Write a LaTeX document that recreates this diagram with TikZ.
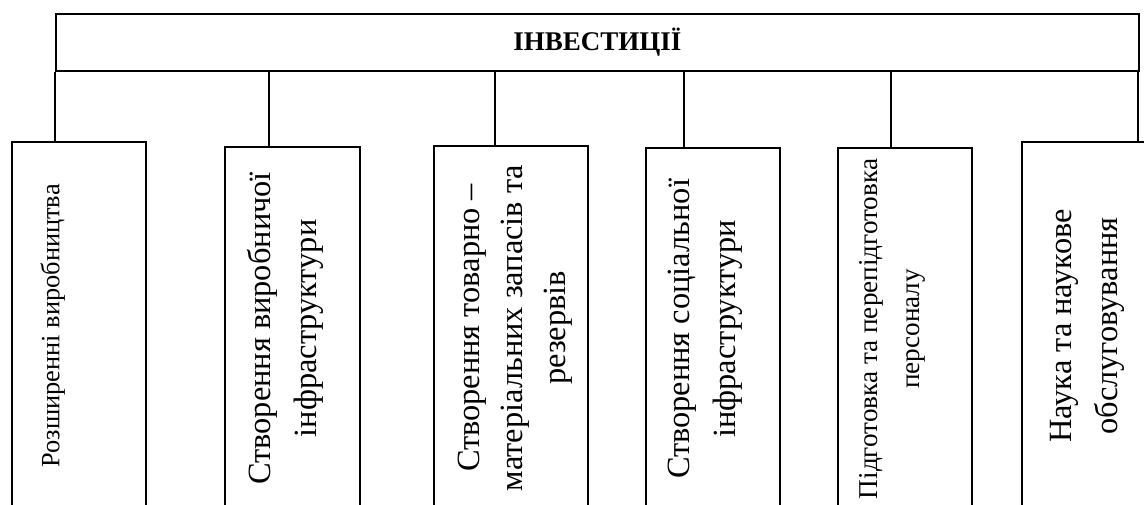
\documentclass[tikz,border=0pt]{standalone}
\usepackage{fontspec}
\setmainfont{Liberation Serif}

\tikzset{
  frame/.style={draw, line width=0.9pt, anchor=north west, inner sep=0pt},
  lbl/.style={rotate=90, anchor=north, align=center, inner sep=0pt},
  big/.style={font=\fontsize{16.2}{23}\selectfont},
}

\begin{document}
\begin{tikzpicture}[x=0.5pt,y=0.5pt]
  \path[use as bounding box, clip] (0,0) rectangle (1144,504);

  % heading block
  \node[frame, minimum width=541.5pt, minimum height=28.5pt] (inv) at (55,491) {};
  \node[font=\bfseries\fontsize{13.5}{15}\selectfont] (title) at (inv.center) {ІНВЕСТИЦІЇ};

  % lower blocks
  \node[frame, minimum width=67pt, minimum height=184pt] (b1) at (11,363) {};
  \node[frame, minimum width=67.5pt, minimum height=181.5pt] (b2) at (224,358) {};
  \node[frame, minimum width=77pt, minimum height=182pt] (b3) at (433,359) {};
  \node[frame, minimum width=67pt, minimum height=181pt] (b4) at (645,357) {};
  \node[frame, minimum width=67pt, minimum height=181pt] (b5) at (837,357) {};
  \node[frame, minimum width=66pt, minimum height=184pt] (b6) at (1021,363) {};

  % texts, turned
  \node[lbl, font=\fontsize{13.2}{19}\selectfont] (t1) at ([xshift=14.5pt]b1.west) {Розширенні виробництва};
  \node[lbl, big] (t2) at ([xshift=11.5pt]b2.west) {Створення виробничої\\інфраструктури};
  \node[lbl, font=\fontsize{16.2}{21.5}\selectfont] (t3) at ([xshift=12.5pt]b3.west) {Створення товарно –\\матеріальних запасів та\\резервів};
  \node[lbl, big] (t4) at ([xshift=11.5pt]b4.west) {Створення соціальної\\інфраструктури};
  \node[lbl, font=\fontsize{13.6}{21}\selectfont] (t5) at ([xshift=11pt]b5.west) {Підготовка та перепідготовка\\персоналу};
  \node[lbl, big] (t6) at ([xshift=14.5pt]b6.west) {Наука та наукове\\обслуговування};

  % connectors
  \foreach \b/\d in {b1/44, b2/45, b3/62, b4/39, b5/54, b6/117} {
    \path (\b.north west) ++(\d,0) coordinate (k\b);
    \draw[line width=0.9pt] (k\b) -- (k\b |- inv.south);
  }

\end{tikzpicture}
\end{document}
